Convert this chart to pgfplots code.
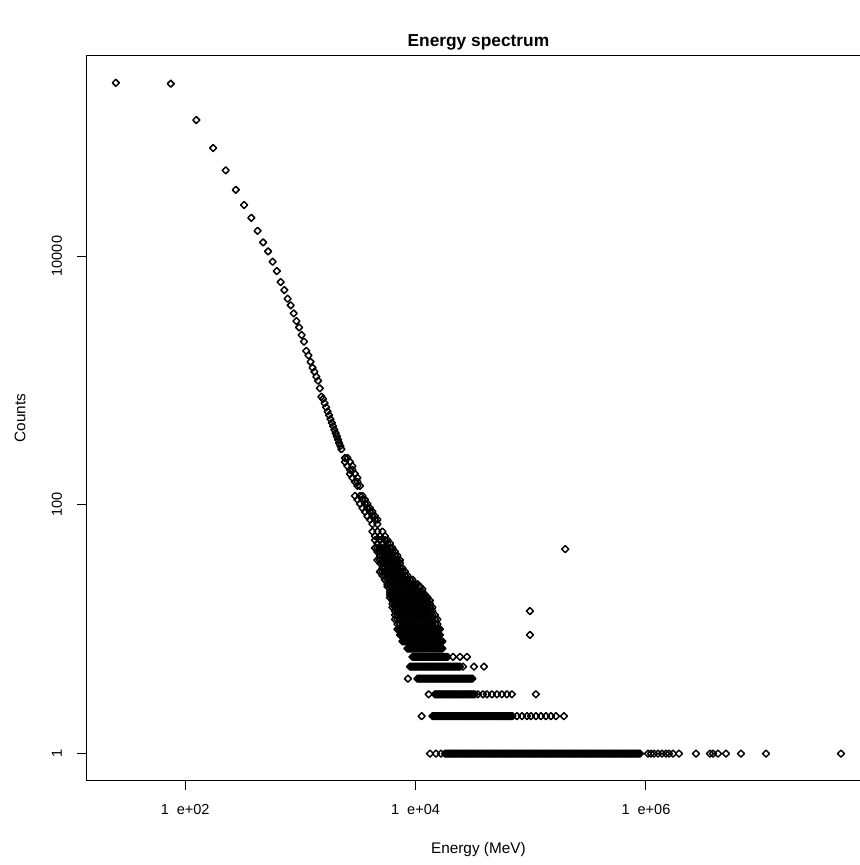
\documentclass[border=0pt]{standalone}
\usepackage{fontspec}
\setmainfont{Liberation Sans}
\usepackage{pgfplots}
\pgfplotsset{compat=1.18}
\pgfplotsset{pt/.style={only marks, mark=square, mark size=1.85pt, black, mark options={rotate=45, line width=1.1pt, line join=round, black}}}
\begin{document}
\begin{tikzpicture}
\begin{axis}[
  at={(0,0)}, anchor=south west,
  scale only axis, width=587.4pt, height=543.45pt,
  xmode=log, ymode=log,
  xmin=14.0, xmax=8.81e7, ymin=0.608, ymax=406400,
  xtick={100,10000,1000000}, ytick={1,100,10000},
  xticklabels={,,}, yticklabels={,,},
  xminorticks=false, yminorticks=false,
  tick align=outside, major tick length=7.2pt,
  tick pos=left,
  axis line style={line width=0.75pt, black},
  every tick/.style={black, line width=0.75pt},
  clip=false,
  title={\fontsize{13}{15}\selectfont\bfseries Energy spectrum},
  title style={at={(axis description cs:0.5,1.0219)}, anchor=center, yshift=-7.5pt},
  xlabel={Energy (MeV)}, ylabel={Counts},
  xlabel style={at={(axis description cs:0.5,-0.0959)}, anchor=center, font=\fontsize{11.5}{13}\selectfont},
  ylabel style={at={(axis description cs:-0.0853,0.5)}, anchor=center, font=\fontsize{11.5}{13}\selectfont},
]
% upper curve
\addplot[pt] coordinates {(25,247000) (75,242800) (125,123900) (175,73800) (225,48900) (275,34100) (325,25700) (375,20300) (425,15960) (475,12880) (525,10900) (575,9000) (625,7570) (675,6180) (725,5330) (775,4540) (825,4020) (875,3460) (925,3000) (975,2670) (1025,2320) (1075,2050) (1125,1730) (1175,1590) (1225,1413) (1275,1265) (1325,1175) (1375,1071) (1425,995) (1475,865) (1525,740)
(1575,711) (1625,656) (1675,608) (1725,563) (1775,525) (1825,489) (1875,457) (1925,428) (1975,401) (2025,377) (2075,355) (2125,334) (2175,314) (2225,297) (2275,280)};
% cloud
\addplot[pt] coordinates {(2439,238) (2564,238) (2439,221) (2696,221) (2564,205) (2833,205) (2696,191) (2833,191) (2696,177) (2979,177) (2833,165) (3131,165) (2979,153) (3131,153) (3131,142) (3292,142)
(2979,118) (3292,118) (3460,118) (3131,110) (3460,110) (3638,110) (3292,102) (3638,102) (3824,102) (3460,94) (3824,94) (4020,94) (3638,88) (4020,88) (4226,88) (3824,81) (4226,81) (4443,81) (4020,76) (4443,76) (4670,76) (4226,70) (4670,70)
(4226,61) (4670,61) (5161,61) (4443,56) (4910,56) (5426,56) (4443,52) (4910,52) (5426,52) (5704,52) (4670,49) (5161,49) (5704,49) (5996,49)
(4443,45) (4910,45) (5426,45) (5996,45) (6303,45) (4670,42) (5161,42) (5704,42) (6303,42) (6627,42) (4910,39) (5426,39) (5996,39) (6627,39) (6967,39)
(4670,36) (5161,36) (5704,36) (6303,36) (6967,36) (7323,36) (4910,34) (5426,34) (5996,34) (6627,34) (7323,34) (5161,31) (5704,31) (6303,31) (6967,31) (7699,31)
(4910,29) (5426,29) (5996,29) (6627,29) (7323,29) (8093,29) (5161,27) (5704,27) (6303,27) (6967,27) (7699,27) (8508,27)
(5426,25) (5996,25) (6627,25) (7323,25) (8093,25) (8943,25) (9402,25) (5704,23) (6303,23) (6967,23) (7699,23) (8508,23) (9402,23) (10390,23)
(5704,22) (5996,22) (6627,22) (7323,22) (8093,22) (8943,22) (9883,22) (10921,22) (6303,21) (7699,21) (9402,21) (11481,21)
(4670,45) (5161,45) (5704,45) (4910,42) (5426,42) (5996,42) (5161,39) (5704,39) (6303,39) (4910,36) (5426,36) (5996,36) (6627,36)
(5161,34) (5704,34) (6303,34) (6967,34) (5426,31) (5996,31) (6627,31) (7323,31) (5161,29) (5704,29) (6303,29) (6967,29) (7699,29)
(5426,27) (5996,27) (6627,27) (7323,27) (8093,27) (5704,25) (6303,25) (6967,25) (7699,25) (8508,25) (5996,23) (6627,23) (7323,23) (8093,23) (8943,23) (9883,23)};
% rows 20..11
\addplot[pt] coordinates {(5996,20) (6627,20) (7323,20) (8093,20) (8943,20) (9883,20) (10921,20) (11481,20)
(5996,19) (6303,19) (6967,19) (7699,19) (8508,19) (9402,19) (10390,19) (11481,19) (12069,19)
(5996,18) (6627,18) (7323,18) (8093,18) (8943,18) (9883,18) (10921,18) (12069,18) (12688,18)
(6303,17) (6967,17) (7699,17) (8508,17) (9402,17) (10390,17) (11481,17) (12688,17) (13337,17)
(6303,16) (6627,16) (7323,16) (8093,16) (8943,16) (9883,16) (10921,16) (12069,16) (13337,16)
(6303,15) (6967,15) (7699,15) (8508,15) (9402,15) (10390,15) (11481,15) (12688,15) (14021,15)
(6627,14) (7323,14) (8093,14) (8943,14) (9883,14) (10921,14) (12069,14) (13337,14) (14021,14)
(6627,13) (6967,13) (7699,13) (8508,13) (9402,13) (10390,13) (11481,13) (12688,13) (14021,13) (14739,13)
(6627,12) (7323,12) (8093,12) (8943,12) (9883,12) (10921,12) (12069,12) (13337,12) (14739,12) (15494,12)
(6967,11) (7699,11) (8508,11) (9402,11) (10390,11) (11481,11) (12688,11) (14021,11) (15494,11)
(6303,20) (6967,20) (7699,20) (8508,20) (9402,20) (10390,20) (6627,19) (7323,19) (8093,19) (8943,19) (9883,19) (10921,19)
(6303,18) (6967,18) (7699,18) (8508,18) (9402,18) (10390,18) (11481,18) (6627,17) (7323,17) (8093,17) (8943,17) (9883,17) (10921,17) (12069,17)
(6967,16) (7699,16) (8508,16) (9402,16) (10390,16) (11481,16) (12688,16) (6627,15) (7323,15) (8093,15) (8943,15) (9883,15) (10921,15) (12069,15) (13337,15)
(6967,14) (7699,14) (8508,14) (9402,14) (10390,14) (11481,14) (12688,14) (7323,13) (8093,13) (8943,13) (9883,13) (10921,13) (12069,13) (13337,13)
(6967,12) (7699,12) (8508,12) (9402,12) (10390,12) (11481,12) (12688,12) (14021,12) (7323,11) (8093,11) (8943,11) (9883,11) (10921,11) (12069,11) (13337,11) (14739,11)};
% rows 10..5
\addplot[pt] coordinates {(6967,10) (7323,10) (7699,10) (8093,10) (8508,10) (8943,10) (9402,10) (9883,10) (10390,10) (10921,10) (11481,10) (12069,10) (12688,10) (13337,10) (14021,10) (14739,10) (15494,10) (16288,10)
(7143,10) (7508,10) (7894,10) (8298,10) (8723,10) (9169,10) (9640,10) (10133,10) (10653,10) (11197,10) (11771,10) (12374,10) (13009,10) (13674,10) (14376,10) (15112,10) (15886,10)
(7323,9) (7699,9) (8093,9) (8508,9) (8943,9) (9402,9) (9883,9) (10390,9) (10921,9) (11481,9) (12069,9) (12688,9) (13337,9) (14021,9) (14739,9) (15494,9) (16288,9)
(7508,9) (7894,9) (8298,9) (8723,9) (9169,9) (9640,9) (10133,9) (10653,9) (11197,9) (11771,9) (12374,9) (13009,9) (13674,9) (14376,9) (15112,9) (15886,9)
(7699,8) (8093,8) (8508,8) (8943,8) (9402,8) (9883,8) (10390,8) (10921,8) (11481,8) (12069,8) (12688,8) (13337,8) (14021,8) (14739,8) (15494,8) (16288,8) (17123,8)
(7894,8) (8298,8) (8723,8) (9169,8) (9640,8) (10133,8) (10653,8) (11197,8) (11771,8) (12374,8) (13009,8) (13674,8) (14376,8) (15112,8) (15886,8) (16700,8)
(8508,7) (8943,7) (9402,7) (9883,7) (10390,7) (10921,7) (11481,7) (12069,7) (12688,7) (13337,7) (14021,7) (14739,7) (15494,7) (16288,7) (17123,7)
(8723,7) (9169,7) (9640,7) (10133,7) (10653,7) (11197,7) (11771,7) (12374,7) (13009,7) (13674,7) (14376,7) (15112,7) (15886,7) (16700,7)
(9402,6) (9883,6) (10390,6) (10921,6) (11481,6) (12069,6) (12688,6) (13337,6) (14021,6) (14739,6) (15494,6) (16288,6) (17123,6) (18000,6) (18923,6) (21120,6) (24291,6) (27940,6)
(9640,6) (10133,6) (10653,6) (11197,6) (11771,6) (12374,6) (13009,6) (13674,6) (14376,6) (15112,6) (15886,6) (16700,6) (17556,6) (18455,6)
(8943,5) (9402,5) (9883,5) (10390,5) (10921,5) (11481,5) (12069,5) (12688,5) (13337,5) (14021,5) (14739,5) (15494,5) (16288,5) (17123,5) (18000,5) (18923,5) (19891,5) (20911,5) (21981,5) (23109,5) (24291,5) (25800,5) (32130,5) (39260,5)
(9169,5) (9640,5) (10133,5) (10653,5) (11197,5) (11771,5) (12374,5) (13009,5) (13674,5) (14376,5) (15112,5) (15886,5) (16700,5) (17556,5) (18455,5) (19402,5) (20394,5) (21440,5) (22537,5) (23694,5)};
% rows 4..2
\addplot[pt] coordinates {(8590,4) (10390,4) (10921,4) (11481,4) (12069,4) (12688,4) (13337,4) (14021,4) (14739,4) (15494,4) (16288,4) (17123,4) (18000,4) (18923,4) (19891,4) (20911,4) (21981,4) (23109,4) (24291,4) (25537,4) (26843,4) (28220,4) (29664,4) (31185,4)
(10653,4) (11197,4) (11771,4) (12374,4) (13009,4) (13674,4) (14376,4) (15112,4) (15886,4) (16700,4) (17556,4) (18455,4) (19402,4) (20394,4) (21440,4) (22537,4) (23694,4) (24906,4) (26183,4) (27522,4) (28934,4) (30414,4)
(13000,3) (14739,3) (15494,3) (16288,3) (17123,3) (18000,3) (18923,3) (19891,3) (20911,3) (21981,3) (23109,3) (24291,3) (25537,3) (26843,3) (28220,3) (29664,3) (31185,3) (32781,3) (34800,3) (38480,3) (41670,3) (46050,3) (50880,3) (56230,3) (62140,3) (68670,3) (110900,3)
(15112,3) (15886,3) (16700,3) (17556,3) (18455,3) (19402,3) (20394,3) (21440,3) (22537,3) (23694,3) (24906,3) (26183,3) (27522,3) (28934,3) (30414,3) (31974,3)
(11300,2) (14021,2) (14739,2) (15494,2) (16288,2) (17123,2) (18000,2) (18923,2) (19891,2) (20911,2) (21981,2) (23109,2) (24291,2) (25537,2) (26843,2) (28220,2) (29664,2) (31185,2) (32781,2) (34463,2) (36226,2) (38085,2) (40032,2) (42086,2) (44239,2) (46509,2) (48887,2) (51395,2) (54025,2) (56796,2) (59701,2) (62764,2) (65975,2) (69360,2) (75900,2) (83900,2) (92700,2) (100400,2) (110900,2) (122600,2) (135500,2) (149700,2) (165400,2) (194200,2)
(14376,2) (15112,2) (15886,2) (16700,2) (17556,2) (18455,2) (19402,2) (20394,2) (21440,2) (22537,2) (23694,2) (24906,2) (26183,2) (27522,2) (28934,2) (30414,2) (31974,2) (33610,2) (35335,2) (37142,2) (39049,2) (41045,2) (43151,2) (45358,2) (47686,2) (50124,2) (52695,2) (55392,2) (58233,2) (61211,2) (64352,2) (67644,2)};
% row 1
\addplot[pt] coordinates {(13337,1) (15040,1) (16620,1) (18000,1) (18923,1) (19891,1) (20911,1) (21981,1) (23109,1) (24291,1) (25537,1) (26843,1) (28220,1) (29664,1) (31185,1) (32781,1) (34463,1) (36226,1) (38085,1) (40032,1) (42086,1) (44239,1) (46509,1) (48887,1) (51395,1) (54025,1) (56796,1) (59701,1) (62764,1) (65975,1) (69360,1) (72907,1) (76648,1) (80568,1) (84702,1) (89050,1) (93600,1) (98400,1) (103450,1) (108760,1) (114340,1) (120190,1) (126360,1) (132810,1) (139630,1) (146770,1) (154300,1) (162190,1) (170510,1) (179230,1) (188430,1) (198070,1) (208230,1) (218880,1) (230110,1) (241880,1) (254290,1) (267300,1) (281020,1) (295390,1) (310550,1) (326430,1) (343180,1) (360730,1) (379240,1) (398630,1) (419090,1) (440520,1) (463130,1) (486800,1) (511780,1) (537950,1) (565560,1) (594470,1) (624980,1) (656940,1) (690650,1) (726000,1) (763200,1) (802300,1) (843400,1) (886600,1) (1041000,1) (1105000,1) (1173000,1) (1272000,1) (1377000,1) (1492000,1) (1584000,1) (1716000,1) (1934000,1) (2716000,1) (3594000,1) (3816000,1) (4217000,1) (4948000,1) (6677000,1) (11010000,1) (49290000,1)};
\addplot[pt] coordinates {(18455,1) (19402,1) (20394,1) (21440,1) (22537,1) (23694,1) (24906,1) (26183,1) (27522,1) (28934,1) (30414,1) (31974,1) (33610,1) (35335,1) (37142,1) (39049,1) (41045,1) (43151,1) (45358,1) (47686,1) (50124,1) (52695,1) (55392,1) (58233,1) (61211,1) (64352,1) (67644,1) (71115,1) (74752,1) (78587,1) (82606,1) (86845,1) (91303,1) (95968,1) (100890,1) (106070,1) (111510,1) (117230,1) (123230,1) (129560,1) (136170,1) (143160,1) (150480,1) (158200,1) (166290,1) (174820,1) (183760,1) (193200,1) (203080,1) (213500,1) (224420,1) (235930,1) (248000,1) (260720,1) (274060,1) (288130,1) (302860,1) (318410,1) (334690,1) (351860,1) (369860,1) (388830,1) (408720,1) (429690,1) (451660,1) (474850,1) (499120,1) (524730,1) (551560,1) (579870,1) (609510,1) (640790,1) (673560,1) (708120,1) (744370,1) (782510,1) (822600,1) (864740,1)};
% isolated points
\addplot[pt] coordinates {(98400,14) (98400,9) (199300,44)};
% tick labels
\node[font=\fontsize{10.9}{13}\selectfont] at (axis cs:100,0.3525) {1\hspace{0.55em}e+02};
\node[font=\fontsize{10.9}{13}\selectfont] at (axis cs:10000,0.3525) {1\hspace{0.55em}e+04};
\node[font=\fontsize{10.9}{13}\selectfont] at (axis cs:1000000,0.3525) {1\hspace{0.55em}e+06};
\node[font=\fontsize{10.9}{13}\selectfont, rotate=90] at (axis cs:7.716,1) {1};
\node[font=\fontsize{10.9}{13}\selectfont, rotate=90] at (axis cs:7.716,100) {100};
\node[font=\fontsize{10.9}{13}\selectfont, rotate=90] at (axis cs:7.716,10000) {10000};
\end{axis}
\pgfresetboundingbox
\path[use as bounding box] (-65.1pt,-63.375pt) rectangle (579.9pt,585.375pt);
\end{tikzpicture}
\end{document}
